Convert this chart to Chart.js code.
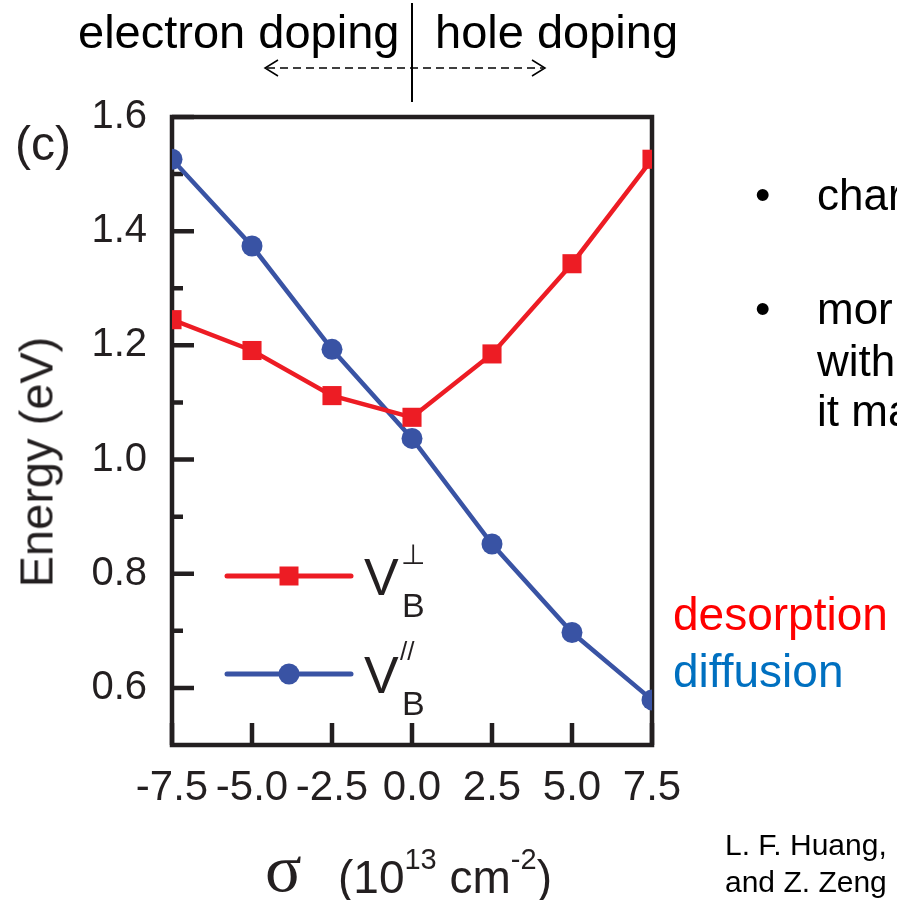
<!DOCTYPE html>
<html>
<head>
<meta charset="utf-8">
<script src="https://cdn.jsdelivr.net/npm/chart.js@4.4.1/dist/chart.umd.min.js"></script>
<style>
  html, body { margin: 0; padding: 0; background: #fff; }
  body { width: 897px; height: 900px; overflow: hidden; position: relative;
         font-family: "Liberation Sans", Arial, sans-serif; color: #231f20; }
  #chart { position: absolute; left: 0; top: 0; }
  .t { position: absolute; white-space: nowrap; line-height: 1; }
  .sup { font-size: 29px; position: relative; top: -24px; }
</style>
</head>
<body>
<canvas id="chart" width="897" height="900"></canvas>

<!-- doping labels -->
<div class="t" style="left:78px;top:8px;font-size:47px;color:#000">electron doping</div>
<div class="t" style="left:435px;top:8px;font-size:47px;color:#000">hole doping</div>

<!-- panel label and axis titles -->
<div class="t" style="left:15px;top:120px;font-size:48px">(c)</div>
<div class="t" style="left:36px;top:462px;font-size:47px;transform:translate(-50%,-50%) rotate(-90deg)">Energy (eV)</div>
<div class="t" style="left:265px;top:834px;font-size:68px;font-family:'Liberation Serif',serif">σ</div>
<div class="t" style="left:338px;top:854px;font-size:46px">(10<span class="sup">13</span> cm<span class="sup">-2</span>)</div>

<!-- legend texts -->
<div class="t" style="left:364px;top:551px;font-size:52px">V</div>
<div class="t" style="left:401px;top:541px;font-size:28px;font-family:'DejaVu Sans',sans-serif">⊥</div>
<div class="t" style="left:402px;top:588px;font-size:34px">B</div>
<div class="t" style="left:364px;top:649px;font-size:52px">V</div>
<div class="t" style="left:400px;top:638px;font-size:26px">//</div>
<div class="t" style="left:402px;top:686px;font-size:34px">B</div>

<!-- side notes -->
<div class="t" style="left:755px;top:173px;font-size:44px;color:#000">•</div>
<div class="t" style="left:817px;top:173px;font-size:44px;color:#000">char</div>
<div class="t" style="left:755px;top:287px;font-size:44px;color:#000">•</div>
<div class="t" style="left:817px;top:287px;font-size:44px;color:#000">mor</div>
<div class="t" style="left:817px;top:339px;font-size:44px;color:#000">with</div>
<div class="t" style="left:817px;top:389px;font-size:44px;color:#000">it ma</div>
<div class="t" style="left:673px;top:591px;font-size:46px;color:#ff0000">desorption</div>
<div class="t" style="left:673px;top:648px;font-size:46px;color:#0070c0">diffusion</div>
<div class="t" style="left:725px;top:830px;font-size:30px;color:#000">L. F. Huang,</div>
<div class="t" style="left:725px;top:867px;font-size:30px;color:#000">and Z. Zeng</div>

<script>
// surface charge density (10^13 cm^-2)
const sigma = [-7.5, -5.0, -2.5, 0.0, 2.5, 5.0, 7.5];
// barriers (eV)
const vPerp = [1.245, 1.191, 1.112, 1.074, 1.185, 1.343, 1.526];
const vPar = [1.526, 1.374, 1.193, 1.037, 0.852, 0.697, 0.579];

const xTicks = [-7.5, -5.0, -2.5, 0.0, 2.5, 5.0, 7.5];
const yTicks = [0.6, 0.8, 1.0, 1.2, 1.4, 1.6];
const yMinorTicks = [0.7, 0.9, 1.1, 1.3, 1.5];

const RED = '#ed1c24';
const BLUE = '#3953a4';
const INK = '#231f20';

// frame with inward ticks, legend samples, doping arrow
const framePlugin = {
  id: 'frame',
  beforeDatasetsDraw(chart) {
    const { ctx, chartArea: a, scales } = chart;
    ctx.save();
    ctx.strokeStyle = INK;
    ctx.lineWidth = 4.5;
    ctx.strokeRect(a.left, a.top, a.right - a.left, a.bottom - a.top);
    ctx.beginPath();
    yTicks.forEach(v => {
      const y = scales.y.getPixelForValue(v);
      ctx.moveTo(a.left, y); ctx.lineTo(a.left + 22, y);
    });
    yMinorTicks.forEach(v => {
      const y = scales.y.getPixelForValue(v);
      ctx.moveTo(a.left, y); ctx.lineTo(a.left + 11, y);
    });
    xTicks.forEach(v => {
      const x = scales.x.getPixelForValue(v);
      ctx.moveTo(x, a.bottom); ctx.lineTo(x, a.bottom - 22);
    });
    ctx.stroke();
    ctx.restore();
  },
  afterDraw(chart) {
    const { ctx, scales } = chart;
    ctx.save();

    // legend samples
    ctx.lineCap = 'round';
    ctx.lineWidth = 5;
    ctx.strokeStyle = RED;
    ctx.beginPath(); ctx.moveTo(227, 576); ctx.lineTo(351, 576); ctx.stroke();
    ctx.fillStyle = RED;
    ctx.fillRect(289 - 9.5, 576 - 9.5, 19, 19);
    ctx.strokeStyle = BLUE;
    ctx.beginPath(); ctx.moveTo(227, 674); ctx.lineTo(351, 674); ctx.stroke();
    ctx.fillStyle = BLUE;
    ctx.beginPath(); ctx.arc(289, 674, 10.5, 0, Math.PI * 2); ctx.fill();

    // electron / hole doping divider
    const x0 = scales.x.getPixelForValue(0);
    ctx.lineCap = 'butt';
    ctx.strokeStyle = '#000';
    ctx.lineWidth = 2;
    ctx.beginPath(); ctx.moveTo(x0, 3); ctx.lineTo(x0, 102); ctx.stroke();

    ctx.lineWidth = 1.5;
    ctx.setLineDash([8, 5]);
    ctx.beginPath(); ctx.moveTo(267, 68); ctx.lineTo(543, 68); ctx.stroke();
    ctx.setLineDash([]);
    ctx.beginPath();
    ctx.moveTo(278, 60); ctx.lineTo(265, 68); ctx.lineTo(278, 76);
    ctx.moveTo(532, 60); ctx.lineTo(545, 68); ctx.lineTo(532, 76);
    ctx.stroke();
    ctx.restore();
  }
};

new Chart(document.getElementById('chart'), {
  type: 'line',
  data: {
    datasets: [
      {
        label: 'V_B perp',
        data: sigma.map((x, i) => ({ x: x, y: vPerp[i] })),
        borderColor: RED,
        backgroundColor: RED,
        borderWidth: 4.5,
        pointStyle: 'rect',
        pointRadius: 13.5,
        pointBorderWidth: 0,
        pointBackgroundColor: RED
      },
      {
        label: 'V_B par',
        data: sigma.map((x, i) => ({ x: x, y: vPar[i] })),
        borderColor: BLUE,
        backgroundColor: BLUE,
        borderWidth: 4.5,
        pointStyle: 'circle',
        pointRadius: 10.5,
        pointBorderWidth: 0,
        pointBackgroundColor: BLUE
      }
    ]
  },
  options: {
    responsive: false,
    animation: false,
    devicePixelRatio: 1,
    layout: { padding: { left: 0, top: 117, right: 245, bottom: 0 } },
    plugins: {
      legend: { display: false },
      tooltip: { enabled: false }
    },
    scales: {
      x: {
        type: 'linear',
        min: -7.5,
        max: 7.5,
        afterBuildTicks: s => { s.ticks = xTicks.map(v => ({ value: v })); },
        afterFit: s => { s.height = 155; },
        grid: { display: false, drawTicks: false },
        border: { display: false },
        ticks: {
          padding: 18,
          color: INK,
          autoSkip: false,
          maxRotation: 0,
          font: { family: 'Liberation Sans', size: 42 },
          callback: v => v.toFixed(1)
        }
      },
      y: {
        type: 'linear',
        min: 0.5,
        max: 1.6,
        afterBuildTicks: s => { s.ticks = yTicks.map(v => ({ value: v })); },
        afterFit: s => { s.width = 172; },
        grid: { display: false, drawTicks: false },
        border: { display: false },
        ticks: {
          padding: 25,
          color: INK,
          font: { family: 'Liberation Sans', size: 40 },
          callback: v => v.toFixed(1)
        }
      }
    }
  },
  plugins: [framePlugin]
});
</script>
</body>
</html>
